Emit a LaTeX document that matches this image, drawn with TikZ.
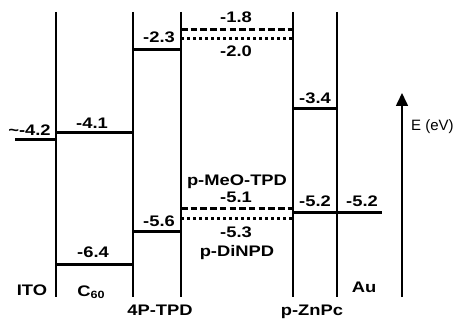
\documentclass[tikz,border=0pt]{standalone}
\usepackage{fontspec}
\setmainfont{Liberation Sans}
\usetikzlibrary{arrows.meta}
\newcommand{\widetxt}[1]{\scalebox{1.2}[1]{#1}}
\tikzset{
  wall/.style={line width=1.4pt},
  level/.style={line width=3pt},
  lumo/.style={line width=3pt, dash pattern=on 6.5pt off 3.2pt},
  homo/.style={line width=3pt, dash pattern=on 2.7pt off 3.3pt},
  val/.style={font=\fontsize{15.3}{15.3}\selectfont\bfseries, inner sep=0pt, anchor=base},
  mat/.style={font=\fontsize{15.3}{15.3}\selectfont\bfseries, inner sep=0pt, anchor=base},
}
\begin{document}
\begin{tikzpicture}[x=1pt,y=-1pt]
\useasboundingbox (0,0) rectangle (458,323);
% walls
\foreach \xx in {56,133,181,293,337}
  \draw[wall] (\xx,12) -- (\xx,297);
% levels
\draw[level] (15,140) -- (56,140);
\draw[level] (56,133) -- (133,133);
\draw[level] (56,264.5) -- (133,264.5);
\draw[level] (133,50) -- (181,50);
\draw[level] (133,232) -- (181,232);
\draw[lumo] (181,30) -- (293,30);
\draw[homo] (181,38.5) -- (293,38.5);
\draw[lumo] (181,209) -- (293,209);
\draw[homo] (181,219) -- (293,219);
\draw[level] (293,109) -- (337,109);
\draw[level] (293,213) -- (382,213);
% values
\node[val] (v1) at (29.5,136) {\widetxt{\textasciitilde-4.2}};
\node[val] (v2) at (92,129) {\widetxt{-4.1}};
\node[val] (v3) at (93,258) {\widetxt{-6.4}};
\node[val] (v4) at (159,43) {\widetxt{-2.3}};
\node[val] (v5) at (159,227) {\widetxt{-5.6}};
\node[val] (v6) at (236,23) {\widetxt{-1.8}};
\node[val] (v7) at (236,57) {\widetxt{-2.0}};
\node[val] (v8) at (236,203) {\widetxt{-5.1}};
\node[val] (v9) at (236,238) {\widetxt{-5.3}};
\node[val] (v10) at (315,104) {\widetxt{-3.4}};
\node[val] (v11) at (315,207) {\widetxt{-5.2}};
\node[val] (v12) at (362,207) {\widetxt{-5.2}};
% materials
\node[mat] (m1) at (237,186) {\widetxt{p-MeO-TPD}};
\node[mat] (m2) at (237,257) {\widetxt{p-DiNPD}};
\node[mat] (m3) at (32,295) {\widetxt{ITO}};
\node[mat] (m4) at (91,296) {\widetxt{C\raisebox{-0.35ex}{\fontsize{10.5}{10.5}\selectfont 60}}};
\node[mat] (m5) at (160,316) {\widetxt{4P-TPD}};
\node[mat] (m6) at (312,316) {\widetxt{p-ZnPc}};
\node[mat] (m7) at (364,292) {\widetxt{Au}};
% energy axis
\coordinate (e0) at (402,297);
\coordinate (e1) at (402,93);
\draw[line width=1.6pt, -{Triangle[width=12pt,length=13pt]}] (e0) -- (e1);
\node[font=\fontsize{15}{15}\selectfont, inner sep=0pt, anchor=base west] (ax) at (411,131) {E (eV)};
\end{tikzpicture}
\end{document}
